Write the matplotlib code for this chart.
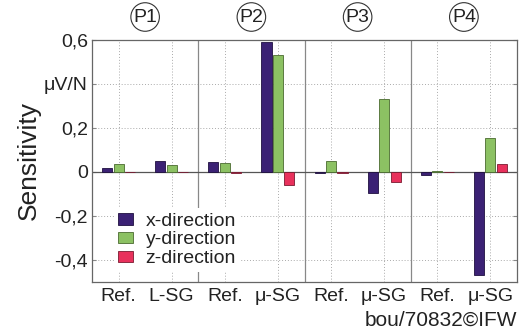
import matplotlib
matplotlib.use("Agg")
import matplotlib.pyplot as plt
import numpy as np

plt.rcParams['font.family'] = ['Liberation Sans', 'DejaVu Sans']

categories = ["Ref.", "L-SG", "Ref.", "μ-SG", "Ref.", "μ-SG", "Ref.", "μ-SG"]
groups = ["P1", "P2", "P3", "P4"]
x_dir = [0.018, 0.049, 0.046, 0.592, -0.003, -0.095, -0.012, -0.468]
y_dir = [0.035, 0.032, 0.043, 0.531, 0.049, 0.334, 0.004, 0.156]
z_dir = [0.002, 0.001, -0.005, -0.061, -0.003, -0.045, 0.001, 0.038]
series_names = ["x-direction", "y-direction", "z-direction"]
colors = ["#3b2174", "#8cc163", "#e8315c"]
edges = ["#1f1040", "#4a6b30", "#7a1a30"]
ytick_vals = [0.6, 0.4, 0.2, 0.0, -0.2, -0.4]
ytick_labels = ["0,6", "μV/N", "0,2", "0", "-0,2", "-0,4"]

fig = plt.figure(figsize=(5.19, 3.30), dpi=100)
ax = fig.add_axes([92/519, 1-282/330, 425/519, 242/330])

pos = np.arange(len(categories))
w = 0.19
off = 0.215
for i, (vals, c, e, name) in enumerate(zip([x_dir, y_dir, z_dir], colors, edges, series_names)):
    ax.bar(pos + (i-1)*off, vals, width=w, color=c, edgecolor=e, linewidth=0.6,
           label=name, zorder=3)

ax.set_xlim(-0.5, len(categories)-0.5)
ax.set_ylim(-0.5, 0.6)
ax.set_xticks(pos)
ax.set_xticklabels(categories, fontsize=14, color="#222222")
ax.set_yticks(ytick_vals)
ax.set_yticklabels(ytick_labels, fontsize=14, color="#222222")
ax.tick_params(axis='x', length=0, pad=4)
ax.tick_params(axis='y', direction='in', length=3, color="#888888", right=True, pad=3)

# grid
for yv in [0.4, 0.2, -0.2, -0.4]:
    ax.axhline(yv, color="#aaaaaa", linestyle=(0, (1, 2)), linewidth=0.7, zorder=1)
for p in pos:
    ax.axvline(p, color="#aaaaaa", linestyle=(0, (1, 2)), linewidth=0.7, zorder=1)
for sep in [1.5, 3.5, 5.5]:
    ax.axvline(sep, color="#888888", linewidth=0.9, zorder=1)
ax.axhline(0, color="#555555", linewidth=0.9, zorder=2)

for s in ax.spines.values():
    s.set_color("#666666")
    s.set_linewidth(0.9)

ax.set_ylabel("Sensitivity", fontsize=19, color="#222222", labelpad=2)

# group labels
for gi, g in enumerate(groups):
    ax.text(2*gi + 0.5, 1.0 + 23/242, g, transform=ax.get_xaxis_transform(),
            ha='center', va='center', fontsize=14, color="#222222",
            bbox=dict(boxstyle='circle,pad=0.12', fc='white', ec='#333333', lw=0.8))

leg = ax.legend(loc='lower left', bbox_to_anchor=(0.028, 0.0), fontsize=14,
                frameon=True, facecolor='white', edgecolor='none', framealpha=1,
                handlelength=0.75, handleheight=0.55, handletextpad=0.65,
                labelspacing=0.1, borderpad=0.25)
leg.set_zorder(5)
for t in leg.get_texts():
    t.set_color("#222222")

fig.text(517/519, 1-320/330, "bou/70832©IFW", ha='right', va='center',
         fontsize=15, color="#222222")

fig.savefig("out.png", dpi=100)
